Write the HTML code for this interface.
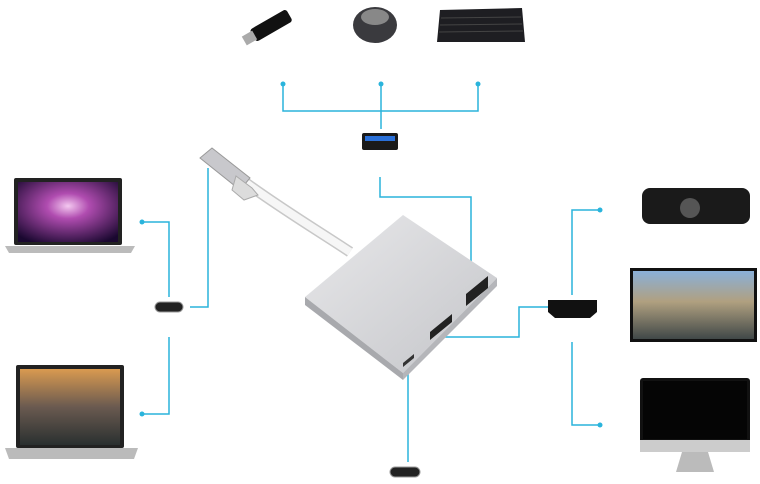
<!DOCTYPE html><html><head><style>body{margin:0;background:#fff;width:760px;height:479px;overflow:hidden}</style></head><body>
<svg width="760" height="479" viewBox="0 0 760 479" xmlns="http://www.w3.org/2000/svg">
<defs>
<radialGradient id="purp" cx="50%" cy="40%" r="70%"><stop offset="0" stop-color="#f4c8f0"/><stop offset="0.3" stop-color="#b04cb0"/><stop offset="1" stop-color="#1a0830"/></radialGradient>
<linearGradient id="sky" x1="0" y1="0" x2="0" y2="1"><stop offset="0" stop-color="#d99a50"/><stop offset="0.5" stop-color="#6a5a50"/><stop offset="1" stop-color="#2a3030"/></linearGradient>
<linearGradient id="alu" x1="0" y1="0" x2="1" y2="1"><stop offset="0" stop-color="#e8e8ea"/><stop offset="1" stop-color="#c4c5c9"/></linearGradient>
<linearGradient id="game" x1="0" y1="0" x2="0" y2="1"><stop offset="0" stop-color="#8ab0d8"/><stop offset="0.45" stop-color="#b0a080"/><stop offset="1" stop-color="#404848"/></linearGradient>
</defs>
<g stroke="#2ab4dc" stroke-width="1.5" fill="none">
<polyline points="283,84 283,111 478,111 478,84"/><line x1="381" y1="84" x2="381" y2="129"/>
<polyline points="380,177 380,197 471,197 471,292"/>
<polyline points="142,222 169,222 169,297"/><polyline points="190,307 208,307 208,168"/>
<polyline points="169,337 169,414 142,414"/>
<polyline points="600,210 572,210 572,295"/><polyline points="548,307 519,307 519,337 440,337"/>
<polyline points="572,342 572,425 600,425"/><line x1="408" y1="372" x2="408" y2="462"/>
</g>
<g fill="#2ab4dc"><circle cx="283" cy="84" r="2.5"/><circle cx="381" cy="84" r="2.5"/><circle cx="478" cy="84" r="2.5"/><circle cx="142" cy="222" r="2.5"/><circle cx="142" cy="414" r="2.5"/><circle cx="600" cy="210" r="2.5"/><circle cx="600" cy="425" r="2.5"/></g>
<rect x="362" y="133" width="36" height="17" rx="2" fill="#1a1a1a"/><rect x="365" y="136" width="30" height="5" fill="#2a70d8"/>
<rect x="155" y="302" width="28" height="10" rx="5" fill="#222" stroke="#999"/>
<rect x="390" y="467" width="30" height="10" rx="5" fill="#222" stroke="#999"/>
<polygon points="548,300 597,300 597,312 590,318 555,318 548,312" fill="#111"/>
<path d="M350,252 C320,232 280,208 242,180" stroke="#c8c8c8" stroke-width="11" fill="none"/>
<path d="M350,252 C320,232 280,208 242,180" stroke="#f6f6f6" stroke-width="8" fill="none"/>
<polygon points="200,158 212,148 250,178 240,190" fill="#c8c8cc" stroke="#999"/>
<polygon points="236,176 252,188 258,195 244,200 232,190" fill="#dcdcdc" stroke="#aaa"/>
<polygon points="305,297 403,215 497,278 403,373" fill="url(#alu)" stroke-linejoin="round"/>
<polygon points="305,297 403,373 403,380 305,305" fill="#a8a9ad"/>
<polygon points="403,373 497,278 497,286 403,380" fill="#b5b6ba"/>
<polygon points="466,294 488,276 488,288 466,306" fill="#222"/>
<polygon points="430,332 452,314 452,322 430,340" fill="#222"/>
<polygon points="403,363 414,354 414,358 403,367" fill="#333"/>
<g transform="rotate(-30 272 25)"><rect x="250" y="18" width="42" height="14" rx="3" fill="#111"/><rect x="240" y="20" width="12" height="10" fill="#aaa"/></g>
<ellipse cx="375" cy="25" rx="22" ry="18" fill="#3a3a3e"/><ellipse cx="375" cy="17" rx="14" ry="8" fill="#888"/>
<polygon points="440,10 522,8 525,42 437,42" fill="#1e1e22"/>
<g stroke="#444" stroke-width="1"><line x1="441" y1="18" x2="521" y2="17"/><line x1="440" y1="25" x2="522" y2="24"/><line x1="439" y1="32" x2="523" y2="31"/></g>
<rect x="14" y="178" width="108" height="67" rx="2" fill="#222"/><rect x="18" y="182" width="100" height="60" fill="url(#purp)"/><polygon points="5,246 135,246 131,253 9,253" fill="#bbb"/>
<rect x="16" y="365" width="108" height="83" rx="2" fill="#222"/><rect x="20" y="369" width="100" height="76" fill="url(#sky)"/><polygon points="5,448 138,448 134,459 9,459" fill="#bbb"/>
<rect x="642" y="188" width="108" height="36" rx="8" fill="#1a1a1a"/><circle cx="690" cy="208" r="10" fill="#555"/>
<rect x="630" y="268" width="127" height="74" fill="#111"/><rect x="633" y="271" width="121" height="68" fill="url(#game)"/>
<rect x="640" y="378" width="110" height="70" rx="3" fill="#111"/><rect x="643" y="381" width="104" height="58" fill="#050505"/><rect x="640" y="440" width="110" height="12" fill="#ccc"/><polygon points="682,452 708,452 714,472 676,472" fill="#bbb"/>
</svg></body></html>
